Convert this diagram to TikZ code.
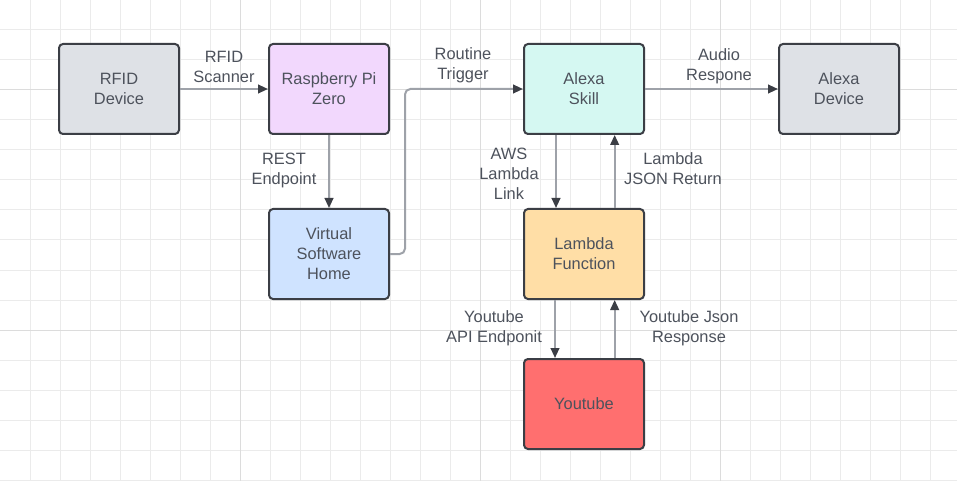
\documentclass[tikz,border=0pt]{standalone}
\usepackage{fontspec}
\setmainfont{Liberation Sans}
\usetikzlibrary{arrows.meta}
\definecolor{gridminor}{HTML}{EBEBEB}
\definecolor{gridmajor}{HTML}{DCDCDC}
\definecolor{boxborder}{HTML}{3B3E45}
\definecolor{txt}{HTML}{4D525C}
\definecolor{linegray}{HTML}{9EA2A9}
\definecolor{arrowdark}{HTML}{3B3E45}
\definecolor{fgray}{HTML}{DEE1E6}
\definecolor{fpurple}{HTML}{F2D8FD}
\definecolor{fteal}{HTML}{D5F8F2}
\definecolor{fblue}{HTML}{CFE3FF}
\definecolor{forange}{HTML}{FFDEA6}
\definecolor{fred}{HTML}{FF6F6F}
\begin{document}
\begin{tikzpicture}[x=0.75pt,y=-0.75pt,
  box/.style={draw=boxborder, line width=1.5pt, rounded corners=3pt,
    minimum width=90pt, minimum height=67.5pt, text=txt, align=center,
    font=\fontsize{12.3}{15}\selectfont, inner sep=0pt},
  lbl/.style={text=txt, align=center, font=\fontsize{12.3}{15}\selectfont, inner sep=0pt},
  conn/.style={draw=linegray, line width=1.5pt,
    -{Triangle[length=7.5pt,width=6.5pt,color=arrowdark]}}]
\useasboundingbox[fill=white] (0,0) rectangle (957,481);
% grid
\foreach \x in {30,60,...,930} \draw[gridminor, line width=0.75pt] (\x,0) -- (\x,481);
\foreach \y in {30,60,...,480} \draw[gridminor, line width=0.75pt] (0,\y) -- (957,\y);
\foreach \x in {240,480,720} \draw[gridmajor, line width=0.75pt] (\x,0) -- (\x,481);
\foreach \y in {90,330} \draw[gridmajor, line width=0.75pt] (0,\y) -- (957,\y);
% nodes
\node[box, fill=fgray] (rfid) at (119,89) {RFID\\Device};
\node[box, fill=fpurple] (raspi) at (329,89) {Raspberry Pi\\Zero};
\node[box, fill=fteal] (skill) at (584,89) {Alexa\\Skill};
\node[box, fill=fgray] (device) at (839,89) {Alexa\\Device};
\node[box, fill=fblue] (vsh) at (329,254) {Virtual\\Software\\Home};
\node[box, fill=forange] (lambda) at (584,254) {Lambda\\Function};
\node[box, fill=fred] (yt) at (584,404) {Youtube};
% connectors
\draw[conn] (rfid.east) -- (raspi.west);
\draw[conn] (raspi.south) -- (vsh.north);
\draw[conn, rounded corners=4pt] (vsh.east) -- ++(15,0) |- (skill.west);
\draw[conn] (skill.east) -- (device.west);
\draw[conn] ([xshift=-21pt]skill.south) -- ([xshift=-21pt]lambda.north);
\draw[conn] ([xshift=23pt]lambda.north) -- ([xshift=23pt]skill.south);
\draw[conn] ([xshift=-21.75pt]lambda.south) -- ([xshift=-21.75pt]yt.north);
\draw[conn] ([xshift=23pt]yt.north) -- ([xshift=23pt]lambda.south);
% labels
\node[lbl] (l1) at (224,67) {RFID\\Scanner};
\node[lbl] (l2) at (284,170) {REST\\Endpoint};
\node[lbl] (l3) at (463,65) {Routine\\Trigger};
\node[lbl] (l4) at (719,66) {Audio\\Respone};
\node[lbl] (l5) at (509,174) {AWS\\Lambda\\Link};
\node[lbl] (l6) at (673,169) {Lambda\\JSON Return};
\node[lbl] (l7) at (494,328) {Youtube\\API Endponit};
\node[lbl] (l8) at (689,328) {Youtube Json\\Response};
\end{tikzpicture}
\end{document}
